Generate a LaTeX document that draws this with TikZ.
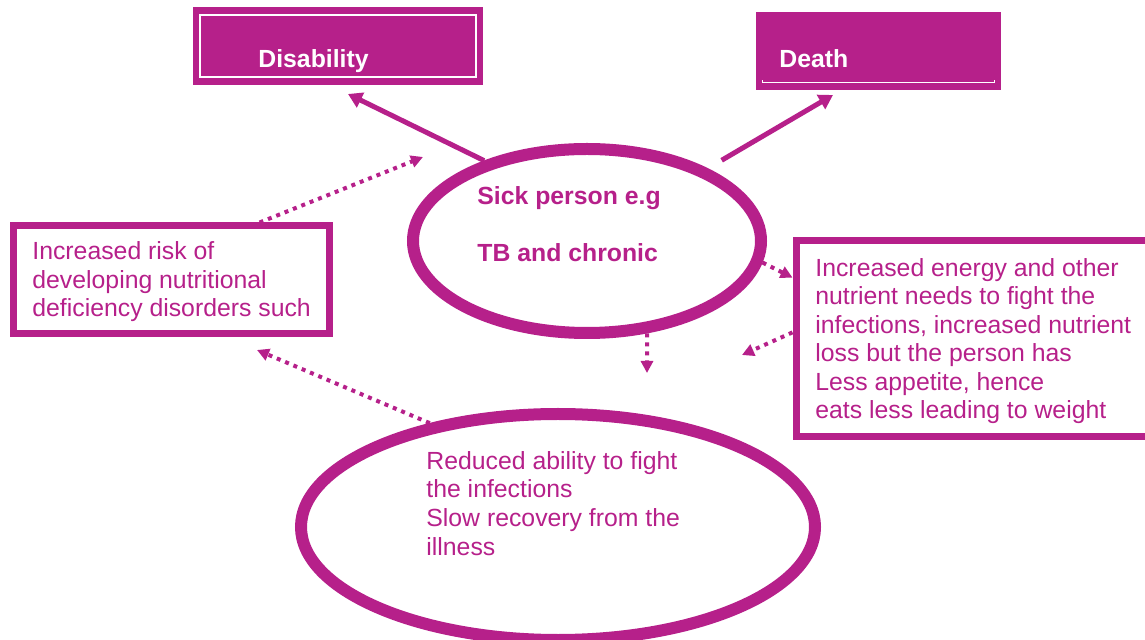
\documentclass[tikz,border=0pt]{standalone}
\usepackage{fontspec}
\setmainfont{Liberation Sans}
\usetikzlibrary{shapes.geometric,arrows.meta,calc}
\definecolor{plum}{RGB}{182,32,138}

\begin{document}
\begin{tikzpicture}[x=0.5pt,y=-0.5pt,
    txt/.style={text=plum,inner sep=0pt,anchor=base west,align=left,font=\fontsize{12.4}{14.25}\selectfont},
    bold/.style={txt,font=\fontsize{12.4}{14.25}\selectfont\bfseries},
    solidbox/.style={fill=plum,minimum height=39pt,inner sep=0pt},
    framebox/.style={draw=plum,line width=3.5pt,inner sep=0pt},
    oval/.style={ellipse,draw=plum,line width=6pt,inner sep=0pt},
    solidarrow/.style={draw=plum,line width=2.5pt,-{Triangle[length=7pt,width=8pt]}},
    dotarrow/.style={draw=plum,line width=2pt,dash pattern=on 2pt off 2.5pt,-{Triangle[length=6pt,width=6pt]}}]
  \useasboundingbox (0,0) rectangle (1145,640);
  \clip (0,0) rectangle (1145,640);

  % outcomes
  \node[solidbox,minimum width=145pt] (dis) at (338,46) {};
  \node[draw=white,line width=0.6pt,minimum width=138pt,minimum height=31pt,inner sep=0pt] (disframe) at (dis) {};
  \node[bold,text=white] (distext) at (258,68) {Disability};
  \node[solidbox,minimum width=122.5pt] (death) at (878.5,51) {};
  \draw[white,line width=0.6pt] ($(death.south west)+(7,-10)$) -- ++(0,2) -- ($(death.south east)+(-7,-8)$) -- ++(0,-2);
  \node[bold,text=white] (deathtext) at (779,68) {Death};

  % sick person (base = last line)
  \node[oval,minimum width=174pt,minimum height=92pt] (sick) at (587,241) {};
  \node[bold] (sicktext) at (477,262) {Sick person e.g\\[14.25pt]TB and chronic};

  % side boxes
  \node[framebox,minimum width=158pt,minimum height=54pt] (risk) at (171,280) {};
  \node[txt] (risktext) at (32,317) {Increased risk of\\developing nutritional\\deficiency disorders such};
  \node[framebox,minimum width=182pt,minimum height=98pt] (needs) at (978,338.5) {};
  \node[txt] (needstext) at (815,419) {Increased energy and other\\nutrient needs to fight the\\infections, increased nutrient\\loss but the person has\\Less appetite, hence\\eats less leading to weight};

  % lower ellipse
  \node[oval,minimum width=257pt,minimum height=113pt] (weak) at (558,527) {};
  \node[txt] (weaktext) at (426,555) {Reduced ability to fight\\the infections\\Slow recovery from the\\illness};

  \coordinate (disTip) at (348,94);
  \coordinate (deathTip) at (833,95);
  \coordinate (sickTip) at (423,157);
  \coordinate (riskTip) at (257,350);
  \coordinate (downTip) at (647,373);
  \coordinate (backTip) at (742,355);

  \draw[solidarrow] (sick.142) -- (disTip);
  \draw[solidarrow,shorten <=8pt] (sick.31) -- (deathTip);
  \draw[dotarrow] (risk.33) -- (sickTip);
  \draw[dotarrow] (weak.141) -- (riskTip);
  \draw[dotarrow] (sick.-57) -- (downTip);
  \draw[dotarrow] (sick.-7) -- ($(needs.north west)!0.2!(needs.south west)$);
  \draw[dotarrow] ($(needs.north west)!0.47!(needs.south west)$) -- (backTip);
\end{tikzpicture}
\end{document}
